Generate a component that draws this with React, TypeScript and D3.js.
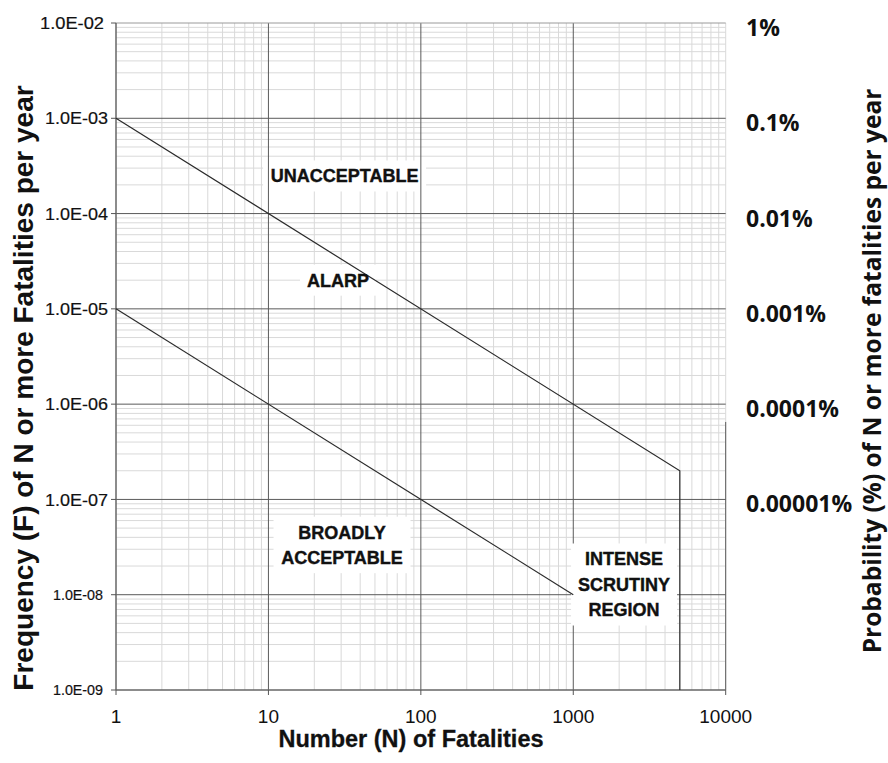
import React from "react";
import * as d3 from "d3";

// ---- data ----
const xTickValues = [1, 10, 100, 1000, 10000];
const xTickLabels = ["1", "10", "100", "1000", "10000"];
const yTickValues = [1e-2, 1e-3, 1e-4, 1e-5, 1e-6, 1e-7, 1e-8, 1e-9];
const yTickLabels = ["1.0E-02", "1.0E-03", "1.0E-04", "1.0E-05", "1.0E-06", "1.0E-07", "1.0E-08", "1.0E-09"];
const yTickFontSizes = [17, 17, 17, 17, 17, 17, 14, 14];
const yTickWidths = [64, 63, 63, 63, 63, 63, 50, 50];
const yTickRightEdge = [104, 108, 108, 108, 108, 108, 103, 103];
const probValues = [1e-2, 1e-3, 1e-4, 1e-5, 1e-6, 1e-7];
const probLabels = ["1%", "0.1%", "0.01%", "0.001%", "0.0001%", "0.00001%"];

// upper criterion line (unacceptable / ALARP boundary) with cut-off at N = 5000
const upperN = [1, 5000, 5000];
const upperF = [1e-3, 2e-7, 1e-9];
// lower criterion line (ALARP / broadly acceptable boundary)
const lowerN = [1, 1000];
const lowerF = [1e-5, 1e-8];

// region labels
const regionLines = [["UNACCEPTABLE"], ["ALARP"], ["BROADLY", "ACCEPTABLE"], ["INTENSE", "SCRUTINY", "REGION"]];
const regionN = [31.6, 28.6, 30.4, 2154];
const regionF = [2.48e-4, 2.0e-5, 3.33e-8, 1.28e-8];
const regionCoverMajor = [false, false, false, true];

const W = 888;
const H = 763;
const left = 116;
const right = 725.7;
const top = 23;
const bottom = 690;

const ARIAL = "'Liberation Sans', Arial, sans-serif";
const CAL = "'Open Sans', 'Noto Sans', sans-serif";

function textWidth(s: string, size: number) {
  // approx Arial bold widths for uppercase
  const w: Record<string, number> = {
    A: 0.722, B: 0.722, C: 0.722, D: 0.722, E: 0.667, G: 0.778, I: 0.278, L: 0.611, N: 0.722,
    O: 0.778, P: 0.667, R: 0.722, S: 0.667, T: 0.611, U: 0.722, Y: 0.667,
  };
  let t = 0;
  for (const c of s) t += w[c] ?? 0.7;
  return t * size;
}

export default function App() {
  const x = d3.scaleLog().domain([1, 10000]).range([left, right]);
  const y = d3.scaleLog().domain([1e-9, 1e-2]).range([bottom, top]);

  const minorX: number[] = [];
  for (let d = 1; d < 10000; d *= 10) for (let k = 2; k <= 9; k++) minorX.push(d * k);
  const minorY: number[] = [];
  for (let d = 1e-9; d < 1e-2 * 0.99; d *= 10) for (let k = 2; k <= 9; k++) minorY.push(d * k);

  const mkPath = (ns: number[], fs: number[]) =>
    d3.line<[number, number]>().x((d) => x(d[0])).y((d) => y(d[1]))(ns.map((n, i) => [n, fs[i]]) as [number, number][]) || "";

  const fontSize = 18;
  const lineGap = 25.5;
  const cap = 13;
  const labels = regionLines.map((lines, i) => {
    const cx = x(regionN[i]);
    const cy = y(regionF[i]);
    const n = lines.length;
    const baselines = lines.map((_, j) => cy + (j - (n - 1) / 2) * lineGap + cap / 2);
    const wmax = Math.max(...lines.map((l) => textWidth(l, fontSize)));
    const box = {
      x: cx - wmax / 2 - 7,
      y: baselines[0] - cap - 9,
      w: wmax + 14,
      h: baselines[n - 1] - baselines[0] + cap + 18,
    };
    return { lines, cx, baselines, box, coverMajor: regionCoverMajor[i] };
  });

  const minorColor = "#d9d9d9";
  const majorColor = "#5a5a5a";

  return (
    <svg width={W} height={H} style={{ position: "absolute", left: 0, top: 0, background: "#fff" }}>
      <rect x={0} y={0} width={W} height={H} fill="#fff" />
      {/* minor grid */}
      <g stroke={minorColor} strokeWidth={1}>
        {minorX.map((v, i) => (
          <line key={"mx" + i} x1={x(v)} x2={x(v)} y1={top} y2={bottom} />
        ))}
        {minorY.map((v, i) => (
          <line key={"my" + i} x1={left} x2={right} y1={y(v)} y2={y(v)} />
        ))}
        <line x1={right} x2={right} y1={top} y2={bottom} />
      </g>
      {/* label backgrounds that sit under the major grid */}
      {labels
        .filter((l) => !l.coverMajor)
        .map((l, i) => (
          <rect key={"b" + i} x={l.box.x} y={l.box.y} width={l.box.w} height={l.box.h} fill="#fff" />
        ))}
      {/* major grid */}
      <g stroke={majorColor} strokeWidth={1}>
        {xTickValues.slice(1, -1).map((v, i) => (
          <line key={"Mx" + i} x1={x(v)} x2={x(v)} y1={top} y2={bottom} />
        ))}
        {yTickValues.slice(0, -1).map((v, i) => (
          <line key={"My" + i} x1={left} x2={right} y1={y(v)} y2={y(v)} stroke={i === 0 ? "#9a9a9a" : majorColor} />
        ))}
        <line x1={right} x2={right} y1={y(6.5e-7)} y2={bottom} />
      </g>
      {/* label backgrounds that cover the major grid */}
      {labels
        .filter((l) => l.coverMajor)
        .map((l, i) => (
          <rect key={"bc" + i} x={l.box.x} y={l.box.y} width={l.box.w} height={l.box.h} fill="#fff" />
        ))}
      {/* axes */}
      <g stroke="#666" strokeWidth={1.5}>
        <line x1={left} x2={left} y1={top} y2={bottom} />
        <line x1={left} x2={right} y1={bottom} y2={bottom} />
      </g>
      <g stroke="#555" strokeWidth={1}>
        {yTickValues.map((v, i) => (
          <line key={"ty" + i} x1={left - 5} x2={left} y1={y(v)} y2={y(v)} />
        ))}
        {xTickValues.map((v, i) => (
          <line key={"tx" + i} x1={x(v)} x2={x(v)} y1={bottom} y2={bottom + 5} />
        ))}
      </g>
      {/* criterion lines */}
      <g fill="none" stroke="#2a2a2a" strokeWidth={1.2}>
        <path d={mkPath(upperN, upperF)} />
        <path d={mkPath(lowerN, lowerF)} />
      </g>
      {/* region labels */}
      <g
        fontFamily={ARIAL}
        fontWeight="bold"
        fontSize={fontSize}
        fill="#111"
        stroke="#111"
        strokeWidth={0.4}
        textAnchor="middle"
      >
        {labels.map((l, i) =>
          l.lines.map((t, j) => (
            <text key={"r" + i + "-" + j} x={l.cx} y={l.baselines[j]}>
              {t}
            </text>
          ))
        )}
      </g>
      {/* left tick labels */}
      <g fontFamily={ARIAL} fill="#111" stroke="#111" strokeWidth={0.2} textAnchor="end">
        {yTickValues.map((v, i) => (
          <text
            key={"yl" + i}
            x={yTickRightEdge[i]}
            y={y(v) + yTickFontSizes[i] * 0.36}
            fontSize={yTickFontSizes[i]}
            textLength={yTickWidths[i]}
            lengthAdjust="spacingAndGlyphs"
          >
            {yTickLabels[i]}
          </text>
        ))}
      </g>
      {/* bottom tick labels */}
      <g fontFamily={ARIAL} fill="#111" textAnchor="middle" fontSize={19}>
        {xTickValues.map((v, i) => (
          <text key={"xl" + i} x={x(v)} y={723}>
            {xTickLabels[i]}
          </text>
        ))}
      </g>
      {/* right probability labels */}
      <g fontFamily={CAL} fontWeight="bold" fill="#111" fontSize={23}>
        {probValues.map((v, i) => (
          <text key={"pl" + i} x={746} y={y(v) + 5} dy="0.35em">
            {probLabels[i]}
          </text>
        ))}
      </g>
      {/* axis titles */}
      <text
        x={411}
        y={747}
        fontFamily={ARIAL}
        fontWeight="bold"
        fontSize={23.5}
        textAnchor="middle"
        fill="#111"
        stroke="#111"
        strokeWidth={0.3}
      >
        Number (N) of Fatalities
      </text>
      <text
        transform="translate(33,388) rotate(-90)"
        fontFamily={ARIAL}
        fontWeight="bold"
        fontSize={28}
        textAnchor="middle"
        fill="#111"
      >
        Frequency (F) of N or more Fatalities per year
      </text>
      <text
        transform="translate(881,371) rotate(-90)"
        fontFamily={CAL}
        fontWeight="bold"
        fontSize={24.5}
        textAnchor="middle"
        fill="#111"
      >
        Probability (%) of N or more fatalities per year
      </text>
    </svg>
  );
}
